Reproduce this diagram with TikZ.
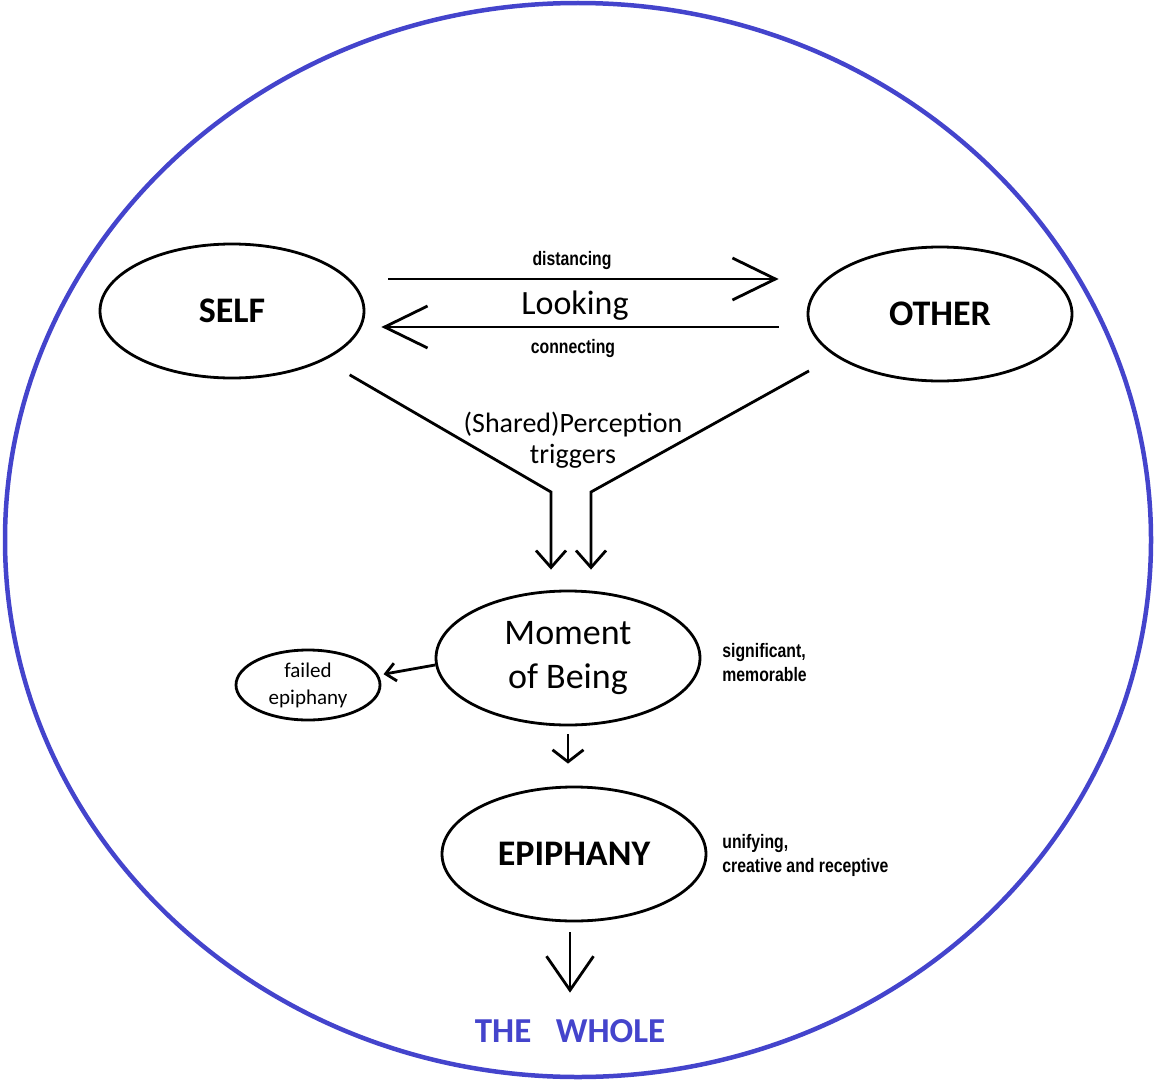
\documentclass[tikz,border=0pt]{standalone}
\usepackage{fontspec}
\setmainfont{Carlito}
\newfontfamily\narrowfont[FakeStretch=0.81]{Liberation Sans}
\usetikzlibrary{shapes,arrows.meta,positioning}
\definecolor{wholeblue}{RGB}{68,68,204}
\tikzstyle{sphere}=[ellipse,draw,line width=2.8pt,inner sep=0pt,minimum width=264pt,minimum height=134pt]
\tikzstyle{bigname}=[font=\fontsize{36}{40}\selectfont\bfseries]
\tikzstyle{note}=[inner sep=0pt,anchor=west,align=left,font=\narrowfont\bfseries\fontsize{19.5}{24}\selectfont]
\tikzstyle{looking}=[-{Straight Barb[length=43pt,width=42pt]}]
\tikzstyle{trigger}=[-{Straight Barb[length=17pt,width=30pt]}]
\tikzstyle{onward}=[-{Straight Barb[length=12pt,width=31pt]}]
\tikzstyle{fails}=[-{Straight Barb[length=10pt,width=18pt]}]
\tikzstyle{whole}=[-{Straight Barb[length=34pt,width=47pt]}]

\begin{document}
\begin{tikzpicture}[x=1pt,y=-1pt,line width=2.8pt]

  \useasboundingbox (0,0) rectangle (1154,1081);
  \draw[wholeblue,line width=4.5pt] (578,540) ellipse [x radius=573pt,y radius=537pt];

  \foreach \name/\lbl/\x/\y in {SELF/SELF/232/311, OTHER/OTHER/940/314, EPI/EPIPHANY/574/854}
    \node[sphere,bigname] (\name) at (\x,\y) {\lbl};

  \node[sphere,align=center,font=\fontsize{36}{44}\selectfont] (MOB) at (568,658) {Moment\\of Being};
  \node[ellipse,draw,inner sep=0pt,minimum width=144pt,minimum height=70pt,
        align=center,font=\fontsize{21}{27}\selectfont] (FAIL) at (308,685) {failed\\epiphany};
  \node[wholeblue,font=\fontsize{35}{40}\selectfont\bfseries] (WHOLE) at (570,1031) {THE\hspace{0.7em}WHOLE};

  \node[font=\fontsize{34}{40}\selectfont] (LOOK) at (575,306) {Looking};
  \node[note,anchor=center] (DIST) at (572,260) {distancing};
  \node[note,anchor=center] (CONN) at (573,348) {connecting};
  \node[align=center,font=\fontsize{28}{31}\selectfont] (PERC) at (573,440) {(Shared)Perception\\triggers};

  \node[note] (NOTE-MOB) at (721,663) {significant,\\memorable};
  \node[note] (NOTE-EPI) at (721,855) {unifying,\\creative and receptive};

  \coordinate (upper) at (0,279);
  \coordinate (lower) at (0,327);
  \coordinate (bend-l) at (551,492);
  \coordinate (bend-r) at (591,492);

  \draw[looking,shorten <=23pt,shorten >=28pt] (SELF.east |- upper) -- (OTHER.west |- upper);
  \draw[looking,shorten <=28pt,shorten >=16pt] (OTHER.west |- lower) -- (SELF.east |- lower);

  \draw[trigger,shorten <=29pt,shorten >=20pt] (SELF.-28) -- (bend-l) -- (bend-l |- MOB.north);
  \draw[trigger,shorten <=30pt,shorten >=20pt] (OTHER.-158) -- (bend-r) -- (bend-r |- MOB.north);

  \draw[fails,shorten >=5pt] (MOB.183) -- (FAIL.8);
  \draw[onward,shorten <=8pt,shorten >=22pt] (MOB.south) -- (MOB.south |- EPI.north);
  \draw[whole,shorten <=10pt,shorten >=22pt] (WHOLE.north |- EPI.south) -- (WHOLE.north);

\end{tikzpicture}
\end{document}
